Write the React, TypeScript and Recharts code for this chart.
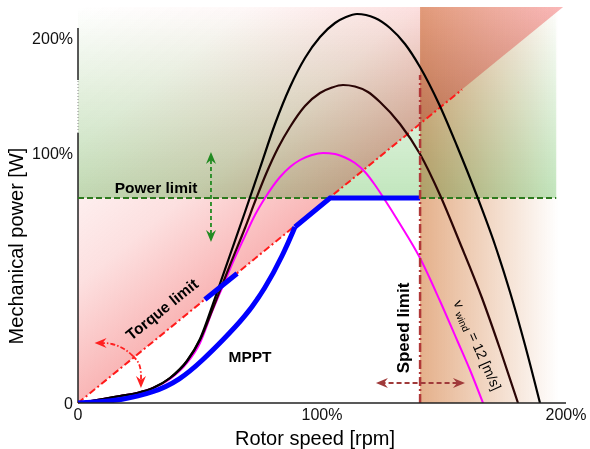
import React from 'react'
import { ComposedChart, Line, Area, Scatter, XAxis, YAxis, ReferenceLine, ReferenceDot } from 'recharts'

const FONT = '"Liberation Sans", Arial, Helvetica, sans-serif'

// rotor speed (% of rated) / mechanical power (% of rated)
const highSpeed = [0, 10.25, 17.21, 24.18, 30.74, 37.7, 44.67, 50, 56.15, 62.3, 68.44, 74.59, 80.74, 86.89, 93.03, 99.18, 105.33, 109.84, 114.34, 121.72, 127.87, 134.02, 140.16, 147.95, 155.33, 163.52, 170.9, 177.05, 183.2, 189.34]
const highPower = [0, 1.6, 2.8, 4, 6, 10, 16.8, 25.6, 42, 59.2, 76.4, 94, 111.6, 126.4, 138, 146.4, 152, 154.4, 155.6, 154, 150, 143.6, 134.4, 119.6, 102.8, 82.8, 63.2, 44.4, 23.2, 0]

const midSpeed = [0, 10.25, 17.21, 24.18, 30.74, 37.7, 44.67, 50, 56.15, 62.3, 68.44, 72.95, 77.05, 81.97, 86.89, 93.03, 99.18, 104.1, 108.61, 113.52, 118.85, 123.77, 131.97, 140.16, 148.36, 156.56, 165.57, 172.95, 180.33]
const midPower = [0, 1.6, 2.8, 4, 6, 10, 16.8, 25.2, 40, 55.2, 70, 81.6, 91.6, 102, 110.4, 118.8, 124, 126.2, 127.2, 126.6, 124.4, 120.4, 111.6, 99.6, 83.2, 64, 42, 21.6, 0]

const windSpeed = [0, 10.25, 17.21, 24.18, 30.74, 37.7, 44.67, 50, 54.92, 59.02, 63.52, 68.44, 72.54, 76.64, 82.79, 86.89, 90.98, 95.9, 100.41, 105.33, 109.43, 113.52, 117.62, 121.72, 125, 131.97, 140.16, 148.36, 155.33, 160.66, 165.98]
const windPower = [0, 1.6, 2.8, 4, 6, 9.6, 16, 24, 36.4, 46, 56.4, 66.8, 75.2, 82, 90.4, 94.4, 97.2, 99.2, 100, 99.6, 98.2, 96, 92.4, 87.2, 82.4, 71.6, 58, 40.8, 25.2, 13.2, 0]

const mpptSpeed = [0, 9, 17.2, 30.7, 41.8, 51.2, 59.4, 68.4, 76.6, 84, 88.9]
const mpptPower = [0, 0.4, 1.2, 4, 9.2, 17.2, 25.2, 34.4, 45.6, 59.2, 70.4]
const mpptLimitSpeed = [88.9, 103.3, 140.2]
const mpptLimitPower = [70.4, 82, 82]
const mpptTorqueSpeed = [52, 65.2]
const mpptTorquePower = [41.4, 51.8]

const xTicks = [0, 100, 200]
const xTickLabels = ['0', '100%', '200%']
const yTicks = [0, 100, 146]
const yTickLabels = ['0', '100%', '200%']

const powerLimit = 82
const speedLimit = 140.2
const yTop = 158.4
const torqueCorner = 198.8
const torqueLineEnd = { x: 157.4, y: 125.4 }

const pts = (xs: number[], ys: number[]) => xs.map((x, i) => ({ x, y: ys[i] }))

const greenZone = [{ x: 0, band: [powerLimit, yTop] }, { x: 196, band: [powerLimit, yTop] }]
const torqueZone = [{ x: 0, band: [0, yTop] }, { x: torqueCorner, band: [yTop, yTop] }]
const speedZone = [{ x: speedLimit, band: [0, yTop] }, { x: 197, band: [0, yTop] }]

// annotation arrows
const greenArrow = pts([54.5, 54.5], [67.6, 97.4])
const greenHeads = [{ x: 54.5, y: 100.4, dir: -90 }, { x: 54.5, y: 64.4, dir: 90 }]
const brownArrow = pts([124, 156.8], [8, 8])
const brownHeads = [{ x: 122.1, y: 8, dir: 180 }, { x: 158.6, y: 8, dir: 0 }]
const redArcLeft = pts([22.5, 18.9, 13.9, 9.2], [18.8, 21.6, 23.6, 24])
const redArcDown = pts([22.5, 25, 25.8, 25.8], [18.8, 15.6, 11.6, 8.6])
const redHeads = [{ x: 6.8, y: 24, dir: 180 }, { x: 25.8, y: 6, dir: 90 }]

const Head = (color: string) => (props: any) => {
  const { cx, cy, payload } = props
  if (cx == null || cy == null) return <g />
  return (
    <path
      d="M0,0 L-12,-5 L-8,0 L-12,5 Z"
      fill={color}
      transform={`translate(${cx},${cy}) rotate(${payload.dir})`}
    />
  )
}

const textAt = (content: React.ReactNode, opts: { size: number; bold?: boolean; angle?: number }) => (p: any) => {
  const { cx, cy } = p
  return (
    <text
      x={cx}
      y={cy}
      textAnchor="middle"
      dominantBaseline="central"
      fontFamily={FONT}
      fontSize={opts.size}
      fontWeight={opts.bold ? 'bold' : 'normal'}
      fill="#000"
      transform={opts.angle ? `rotate(${opts.angle} ${cx} ${cy})` : undefined}
    >
      {content}
    </text>
  )
}

const XTitle = (props: any) => {
  const vb = props.viewBox || { x: 78, y: 403, width: 488 }
  return (
    <text x={vb.x + vb.width / 2 - 7} y={vb.y + 42} textAnchor="middle" fontFamily={FONT} fontSize={20} fill="#000">
      Rotor speed [rpm]
    </text>
  )
}

const YTitle = () => (
  <text x={23} y={246} transform="rotate(-90 23 246)" textAnchor="middle" fontFamily={FONT} fontSize={20} fill="#000">
    Mechanical power [W]
  </text>
)

const curve = { dot: false, activeDot: false, isAnimationActive: false } as const

export default function App() {
  return (
    <div style={{ position: 'absolute', left: 0, top: 0, width: 590, height: 449, background: '#fff' }}>
      <style>{'.mult { mix-blend-mode: multiply; }'}</style>
      <ComposedChart width={590} height={449} margin={{ top: 7, right: 24, bottom: 16, left: 18 }}>
        <defs>
          <linearGradient id="gGreen" x1="0" y1="0" x2="0" y2="1">
            <stop offset="0" stopColor="#6cc462" stopOpacity={0} />
            <stop offset="1" stopColor="#6cc462" stopOpacity={0.42} />
          </linearGradient>
          <linearGradient id="gRed" x1="0.5" y1="0.5" x2="0" y2="0">
            <stop offset="0" stopColor="#f04848" stopOpacity={0.4} />
            <stop offset="0.3" stopColor="#f04848" stopOpacity={0.17} />
            <stop offset="0.65" stopColor="#f04848" stopOpacity={0.04} />
            <stop offset="1" stopColor="#f04848" stopOpacity={0} />
          </linearGradient>
          <linearGradient id="gSpeed" x1="0" y1="0" x2="1" y2="0">
            <stop offset="0" stopColor="#dc9664" stopOpacity={0.75} />
            <stop offset="1" stopColor="#dc9664" stopOpacity={0} />
          </linearGradient>
        </defs>
        <XAxis
          type="number"
          dataKey="x"
          domain={[0, 200]}
          ticks={xTicks}
          interval={0}
          tickFormatter={(v: number) => xTickLabels[xTicks.indexOf(v)]}
          axisLine={{ stroke: '#222', strokeWidth: 1.5 }}
          tickLine={false}
          tickSize={6}
          tickMargin={0}
          tick={{ fontSize: 16, fill: '#111', fontFamily: FONT }}
          height={30}
          allowDataOverflow
          label={<XTitle />}
        />
        <YAxis
          type="number"
          domain={[0, yTop]}
          ticks={yTicks}
          interval={0}
          tickFormatter={(v: number) => yTickLabels[yTicks.indexOf(v)]}
          axisLine={false}
          tickLine={false}
          tickSize={5}
          tickMargin={0}
          tick={{ fontSize: 16, fill: '#111', fontFamily: FONT }}
          width={60}
          allowDataOverflow
          label={<YTitle />}
        />

        <Area data={greenZone} dataKey="band" type="linear" stroke="none" fill="url(#gGreen)" fillOpacity={1} className="mult" {...curve} />
        <Area data={torqueZone} dataKey="band" type="linear" stroke="none" fill="url(#gRed)" fillOpacity={1} className="mult" {...curve} />
        <Area data={speedZone} dataKey="band" type="linear" stroke="none" fill="url(#gSpeed)" fillOpacity={1} className="mult" {...curve} />

        {/* y axis drawn by hand: broken between 100% and 200% */}
        <ReferenceLine segment={[{ x: 0, y: 0 }, { x: 0, y: 108 }]} stroke="#222" strokeWidth={1.5} ifOverflow="visible" />
        <ReferenceLine segment={[{ x: 0, y: 108 }, { x: 0, y: 129.2 }]} stroke="#888" strokeWidth={1} strokeDasharray="1 2" ifOverflow="visible" />
        <ReferenceLine segment={[{ x: 0, y: 129.2 }, { x: 0, y: 150 }]} stroke="#222" strokeWidth={1.5} ifOverflow="visible" />

        <ReferenceLine segment={[{ x: 0, y: powerLimit }, { x: 196, y: powerLimit }]} stroke="#2d7a1e" strokeWidth={2} strokeDasharray="6 3" ifOverflow="visible" />
        <ReferenceLine segment={[{ x: 0, y: 0 }, torqueLineEnd]} stroke="#ff1a1a" strokeWidth={2} strokeDasharray="7 3 2 3" ifOverflow="visible" />

        <Line data={pts(windSpeed, windPower)} dataKey="y" type="monotone" stroke="#ff00ff" strokeWidth={2} {...curve} />
        <Line data={pts(midSpeed, midPower)} dataKey="y" type="monotone" stroke="#2a0505" strokeWidth={2.2} {...curve} />
        <Line data={pts(highSpeed, highPower)} dataKey="y" type="monotone" stroke="#000" strokeWidth={2.2} {...curve} />

        <Line data={pts(mpptSpeed, mpptPower)} dataKey="y" type="basis" stroke="#0000ff" strokeWidth={5} {...curve} />
        <Line data={pts(mpptLimitSpeed, mpptLimitPower)} dataKey="y" type="linear" stroke="#0000ff" strokeWidth={5} {...curve} />
        <Line data={pts(mpptTorqueSpeed, mpptTorquePower)} dataKey="y" type="linear" stroke="#0000ff" strokeWidth={5} {...curve} />

        <ReferenceLine segment={[{ x: speedLimit, y: 0 }, { x: speedLimit, y: 131.2 }]} stroke="#b03838" strokeWidth={2.5} strokeDasharray="9 3 2 3" ifOverflow="visible" />

        <Line data={greenArrow} dataKey="y" type="linear" stroke="#228b22" strokeWidth={1.8} strokeDasharray="4 3" {...curve} />
        <Line data={brownArrow} dataKey="y" type="linear" stroke="#a03a3a" strokeWidth={1.8} strokeDasharray="5 3" {...curve} />
        <Line data={redArcLeft} dataKey="y" type="natural" stroke="#ff2020" strokeWidth={1.8} strokeDasharray="5 2 1.5 2" {...curve} />
        <Line data={redArcDown} dataKey="y" type="natural" stroke="#ff2020" strokeWidth={1.8} strokeDasharray="5 2 1.5 2" {...curve} />
        <Scatter data={greenHeads} dataKey="y" shape={Head('#228b22')} isAnimationActive={false} />
        <Scatter data={brownHeads} dataKey="y" shape={Head('#a03a3a')} isAnimationActive={false} />
        <Scatter data={redHeads} dataKey="y" shape={Head('#ff2020')} isAnimationActive={false} />

        <ReferenceDot x={32} y={86.4} r={0} ifOverflow="visible" shape={textAt('Power limit', { size: 15.5, bold: true })} />
        <ReferenceDot x={34.4} y={37.5} r={0} ifOverflow="visible" shape={textAt('Torque limit', { size: 15.5, bold: true, angle: -39 })} />
        <ReferenceDot x={70.5} y={18.8} r={0} ifOverflow="visible" shape={textAt('MPPT', { size: 15.5, bold: true })} />
        <ReferenceDot x={133.2} y={30} r={0} ifOverflow="visible" shape={textAt('Speed limit', { size: 17, bold: true, angle: -90 })} />
        <ReferenceDot
          x={163.8}
          y={23.2}
          r={0}
          ifOverflow="visible"
          shape={textAt(
            <>
              v <tspan fontSize={10} dy={4}>wind</tspan>
              <tspan dy={-4}> = 12 [m/s]</tspan>
            </>,
            { size: 14, angle: 66 }
          )}
        />
      </ComposedChart>
    </div>
  )
}
